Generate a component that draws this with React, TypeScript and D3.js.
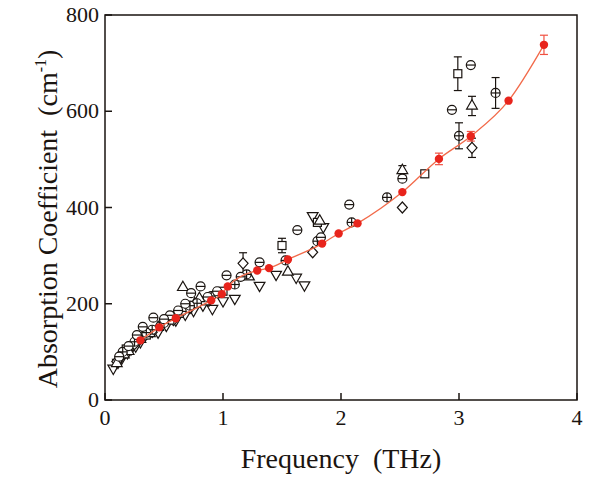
import React from "react";
import * as d3 from "d3";

type Pt = [number, number, number?];

const xTicks = [0, 1, 2, 3, 4];
const yTicks = [0, 200, 400, 600, 800];

const redSeries: Pt[] = [
  [0.3, 124], [0.46, 151], [0.6, 170], [0.9, 207], [0.99, 220], [1.04, 236],
  [1.29, 269], [1.39, 274], [1.55, 292], [1.84, 325], [1.98, 346], [2.14, 367],
  [2.52, 432], [2.83, 501, 12], [3.1, 548, 10], [3.42, 622], [3.72, 738, 20],
];

const circleMinus: Pt[] = [
  [0.12, 90], [0.2, 112], [0.27, 135], [0.32, 152], [0.41, 171], [0.55, 176],
  [0.62, 186], [0.73, 222], [0.81, 236], [0.95, 226], [1.03, 259], [1.15, 256],
  [1.31, 286], [1.63, 353], [1.83, 338], [2.07, 406], [2.52, 460], [2.94, 603], [3.1, 696],
  [0.5, 168], [0.68, 200], [0.87, 214],
];
const circlePlus: Pt[] = [
  [0.15, 100], [0.25, 121], [0.4, 146], [0.5, 160], [0.65, 184], [0.78, 201],
  [0.9, 216], [1.1, 240], [1.2, 261], [1.53, 290], [1.8, 330], [2.09, 369],
  [2.39, 421], [3.0, 549, 27], [3.31, 638, 32], [0.35, 140], [0.72, 196], [0.96, 222],
];
const squares: Pt[] = [
  [0.18, 106], [0.35, 135], [0.55, 166], [0.7, 190], [0.85, 206], [1.0, 226],
  [1.5, 321, 15], [1.8, 369], [2.71, 470], [2.99, 678, 35], [0.28, 128], [0.63, 180],
];
const triUp: Pt[] = [
  [0.1, 76], [0.2, 101], [0.3, 126], [0.45, 151], [0.66, 234], [0.8, 211],
  [1.22, 256], [1.55, 266], [1.82, 372], [2.52, 477, 10], [3.11, 611, 20],
  [0.16, 94], [0.38, 138], [0.58, 172], [0.76, 200],
];
const triDown: Pt[] = [
  [0.07, 66], [0.14, 86], [0.22, 106], [0.3, 121], [0.45, 141], [0.6, 166],
  [0.75, 186], [0.83, 197], [0.91, 190], [1.0, 206], [1.1, 211], [1.31, 238],
  [1.45, 261], [1.62, 255], [1.69, 239], [1.76, 383], [1.85, 360],
  [0.11, 78], [0.19, 98], [0.26, 112], [0.52, 155], [0.68, 178],
];
const diamonds: Pt[] = [
  [0.1, 80], [0.25, 116], [0.4, 141], [0.58, 166], [0.72, 191], [0.88, 206],
  [1.17, 284, 22], [1.76, 307], [2.52, 400], [3.11, 524, 20], [0.16, 96], [0.33, 131],
];

const W = 593, H = 478;
const left = 105, right = 577, top = 15, bottom = 400;
const x = d3.scaleLinear().domain([0, 4]).range([left, right]);
const y = d3.scaleLinear().domain([0, 800]).range([bottom, top]);

const INK = "#1a1410";
const RED = "#e8241c";
const FONT = "Liberation Serif";

function ErrBar({ p, color }: { p: Pt; color: string }) {
  if (!p[2]) return null;
  const cx = x(p[0]);
  const y1 = y(p[1] + p[2]);
  const y2 = y(p[1] - p[2]);
  return (
    <g stroke={color} strokeWidth={1.2}>
      <line x1={cx} x2={cx} y1={y1} y2={y2} />
      <line x1={cx - 4} x2={cx + 4} y1={y1} y2={y1} />
      <line x1={cx - 4} x2={cx + 4} y1={y2} y2={y2} />
    </g>
  );
}

function Marker({ kind, p }: { kind: string; p: Pt }) {
  const cx = x(p[0]);
  const cy = y(p[1]);
  const s = { fill: "white", stroke: INK, strokeWidth: 1.2 } as const;
  const r = 4.5;
  let shape: React.ReactNode = null;
  if (kind === "cm") {
    shape = (
      <g>
        <circle cx={cx} cy={cy} r={r} {...s} />
        <line x1={cx - r} x2={cx + r} y1={cy} y2={cy} stroke={INK} strokeWidth={1.2} />
      </g>
    );
  } else if (kind === "cp") {
    shape = (
      <g>
        <circle cx={cx} cy={cy} r={r} {...s} />
        <line x1={cx - r} x2={cx + r} y1={cy} y2={cy} stroke={INK} strokeWidth={1.2} />
        <line x1={cx} x2={cx} y1={cy - r} y2={cy + r} stroke={INK} strokeWidth={1.2} />
      </g>
    );
  } else if (kind === "sq") {
    shape = <rect x={cx - 4} y={cy - 4} width={8} height={8} {...s} />;
  } else if (kind === "tu") {
    const path = d3.symbol(d3.symbolTriangle, 50)();
    shape = <path d={path || ""} transform={`translate(${cx},${cy})`} {...s} />;
  } else if (kind === "td") {
    const path = d3.symbol(d3.symbolTriangle, 50)();
    shape = <path d={path || ""} transform={`translate(${cx},${cy}) rotate(180)`} {...s} />;
  } else if (kind === "di") {
    shape = (
      <path
        d={`M${cx},${cy - 5.5}L${cx + 5},${cy}L${cx},${cy + 5.5}L${cx - 5},${cy}Z`}
        {...s}
      />
    );
  }
  return (
    <g>
      <ErrBar p={p} color={INK} />
      {shape}
    </g>
  );
}

export default function App() {
  const line = d3
    .line<Pt>()
    .x((d) => x(d[0]))
    .y((d) => y(d[1]))
    .curve(d3.curveMonotoneX);

  const blackSets: [string, Pt[]][] = [
    ["td", triDown],
    ["di", diamonds],
    ["sq", squares],
    ["tu", triUp],
    ["cp", circlePlus],
    ["cm", circleMinus],
  ];

  return (
    <svg
      width={W}
      height={H}
      style={{ position: "absolute", left: 0, top: 0, background: "white" }}
    >
      <g fontFamily={FONT}>
      {blackSets.map(([k, pts]) =>
        pts.map((p, i) => <Marker key={k + i} kind={k} p={p} />)
      )}
      <path d={line(redSeries) || ""} fill="none" stroke="#f26a4a" strokeWidth={1.3} />
      {redSeries.map((p, i) => (
        <g key={"r" + i}>
          <ErrBar p={p} color="#f05040" />
          <circle cx={x(p[0])} cy={y(p[1])} r={4.2} fill={RED} />
        </g>
      ))}

      <rect
        x={left}
        y={top}
        width={right - left}
        height={bottom - top}
        fill="none"
        stroke={INK}
        strokeWidth={1.5}
      />
      {xTicks.map((t) => (
        <g key={"xt" + t}>
          <line x1={x(t)} x2={x(t)} y1={bottom} y2={bottom - 7} stroke={INK} strokeWidth={1.5} />
          <text x={x(t)} y={bottom + 25} textAnchor="middle" fontSize={22} fill={INK}>
            {t}
          </text>
        </g>
      ))}
      {yTicks.map((t) => (
        <g key={"yt" + t}>
          <line x1={left} x2={left + 7} y1={y(t)} y2={y(t)} stroke={INK} strokeWidth={1.5} />
          <text x={left - 6} y={y(t) + 7} textAnchor="end" fontSize={22} fill={INK}>
            {t}
          </text>
        </g>
      ))}
      <text x={341} y={468} textAnchor="middle" fontSize={28} fill={INK}>
        Frequency{"\u00a0\u00a0"}(THz)
      </text>
      <text
        transform={`translate(57,219) rotate(-90)`}
        textAnchor="middle"
        fontSize={28}
        fill={INK}
      >
        Absorption Coefficient{"\u00a0\u00a0"}(cm
        <tspan dy={-11} fontSize={16}>-1</tspan>
        <tspan dy={11}>)</tspan>
      </text>
      </g>
    </svg>
  );
}
